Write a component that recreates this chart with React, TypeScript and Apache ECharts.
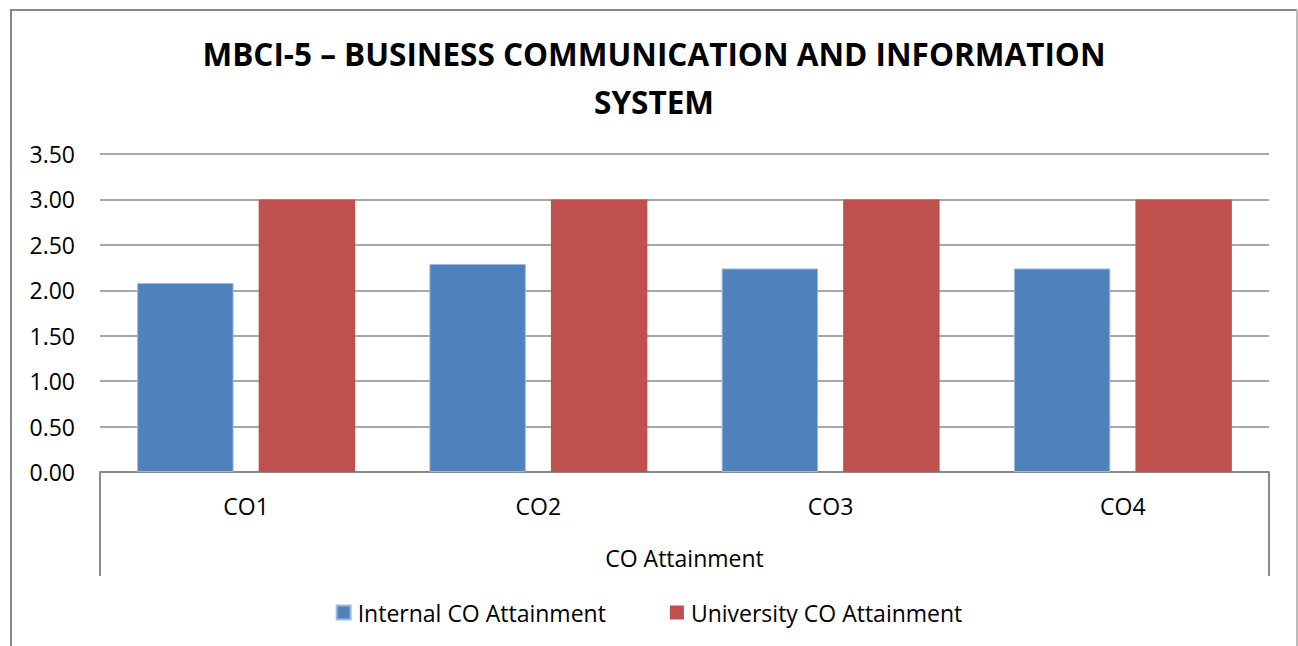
import React, { useEffect, useRef } from "react";
import * as echarts from "echarts";

const categories = ["CO1", "CO2", "CO3", "CO4"];
const internalValues = [2.08, 2.29, 2.24, 2.24];
const universityValues = [3.0, 3.0, 3.0, 3.0];
const seriesNames = ["Internal CO Attainment", "University CO Attainment"];
const titleText = "MBCI-5 – BUSINESS COMMUNICATION AND INFORMATION\nSYSTEM";
const axisGroupName = "CO Attainment";

export default function App() {
  const ref = useRef<HTMLDivElement>(null);
  useEffect(() => {
    if (!ref.current) return;
    const chart = echarts.init(ref.current, undefined, { renderer: "svg" });
    const gridLeft = 100;
    const gridRight = 1269;
    const gridTop = 154;
    const gridBottom = 472;
    const font = "'Open Sans', sans-serif";
    chart.setOption({
      animation: false,
      backgroundColor: "#ffffff",
      title: {
        text: titleText,
        left: 649,
        textAlign: "center",
        top: 24,
        textStyle: {
          fontFamily: font,
          fontWeight: "bold",
          fontSize: 31.5,
          lineHeight: 48,
          color: "#000000",
        },
      },
      grid: {
        left: gridLeft,
        right: 1298 - gridRight,
        top: gridTop,
        bottom: 646 - gridBottom,
      },
      legend: {
        bottom: 17,
        left: "center",
        icon: "rect",
        itemWidth: 14,
        itemHeight: 14,
        itemGap: 64,
        textStyle: {
          fontFamily: font,
          fontSize: 23,
          color: "#000000",
          padding: [0, 0, 0, 2],
        },
        data: seriesNames,
      },
      xAxis: {
        type: "category",
        data: categories,
        name: axisGroupName,
        nameLocation: "middle",
        nameGap: 74,
        nameTextStyle: { fontFamily: font, fontSize: 23, color: "#000000" },
        axisLine: { lineStyle: { color: "#8a8a8a", width: 2 } },
        axisTick: { show: false },
        axisLabel: {
          fontFamily: font,
          fontSize: 23,
          color: "#000000",
          margin: 22,
        },
      },
      yAxis: {
        type: "value",
        min: 0,
        max: 3.5,
        interval: 0.5,
        axisLine: { show: false },
        axisTick: { show: false },
        axisLabel: {
          fontFamily: font,
          fontSize: 23,
          color: "#000000",
          margin: 25,
          formatter: (v: number) => v.toFixed(2),
        },
        splitLine: { lineStyle: { color: "#8a8a8a", width: 1.5 } },
      },
      series: [
        {
          name: seriesNames[0],
          type: "bar",
          data: internalValues,
          barWidth: "33%",
          barGap: "26%",
          itemStyle: { color: "#4F81BD", borderColor: "#9fb9dc", borderWidth: 1 },
        },
        {
          name: seriesNames[1],
          type: "bar",
          data: universityValues,
          barWidth: "33%",
          barGap: "26%",
          itemStyle: { color: "#C0504D" },
        },
      ],
      graphic: [
        {
          type: "line",
          shape: { x1: gridLeft, y1: gridBottom, x2: gridLeft, y2: 576 },
          style: { stroke: "#8a8a8a", lineWidth: 2 },
        },
        {
          type: "line",
          shape: { x1: gridRight, y1: gridBottom, x2: gridRight, y2: 576 },
          style: { stroke: "#8a8a8a", lineWidth: 2 },
        },
        {
          type: "polyline",
          shape: { points: [[11, 660], [11, 10], [1297, 10]] },
          style: { stroke: "#888888", lineWidth: 2, fill: "none" },
        },
        {
          type: "line",
          shape: { x1: 1297, y1: 10, x2: 1297, y2: 660 },
          style: { stroke: "#bbbbbb", lineWidth: 2 },
        },
      ],
    });
    return () => chart.dispose();
  }, []);
  return (
    <div
      ref={ref}
      style={{ position: "fixed", left: 0, top: 0, width: 1298, height: 646 }}
    />
  );
}
